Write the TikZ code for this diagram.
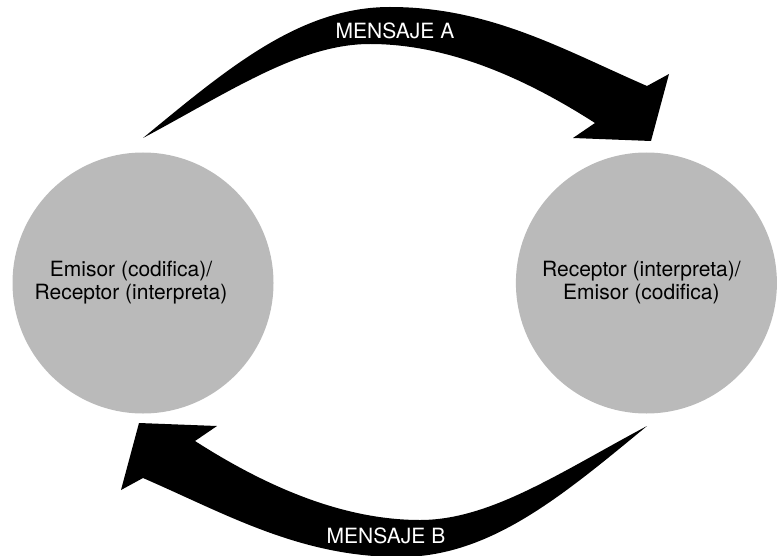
\documentclass[tikz,border=0pt]{standalone}
\usepackage{fontspec}
\setmainfont{TeX Gyre Heros}
\usepackage{tikz}
\usetikzlibrary{positioning}
\definecolor{circgray}{RGB}{186,186,186}

\begin{document}
\begin{tikzpicture}[
			x=1pt, y=-1pt,
			node distance=242pt,
			party/.style={circle, fill=circgray, minimum size=261pt, inner sep=0pt},
			partytext/.style={align=center, inner sep=0pt, font=\fontsize{21}{23}\selectfont},
			msgtext/.style={text=white, anchor=base, inner sep=0pt, font=\fontsize{21}{23}\selectfont},
			msgarrow/.style={fill=black}
		]
		\useasboundingbox (0,0) rectangle (778,556);

		% Nodes
		\node[party] (emisor) at (143,283) {};
		\node[party] (receptor) [right=of emisor] {};
		\node[partytext] (emisorlbl) at ([xshift=-12pt]emisor.center) {Emisor (codifica)/\\Receptor (interpreta)};
		\node[partytext] (receptorlbl) at ([xshift=-5pt]receptor.center) {Receptor (interpreta)/\\Emisor (codifica)};

		% Arrows
		\foreach \ang in {0,180}
			\fill[msgarrow, rotate around={\ang:(395,282)}]
				(143,138) .. controls (228,68) and (300,7) .. (390,7)
				.. controls (490,7) and (564,50) .. (647,86)
				-- (669,74) -- (651,141) -- (573,138) -- (595,123)
				.. controls (528,80) and (450,44) .. (370,44)
				.. controls (300,44) and (231,91) .. (143,138) -- cycle;

		\node[msgtext] (msgA) at (395,39) {MENSAJE A};
		\node[msgtext] (msgB) at (386,543) {MENSAJE B};
	\end{tikzpicture}
\end{document}
